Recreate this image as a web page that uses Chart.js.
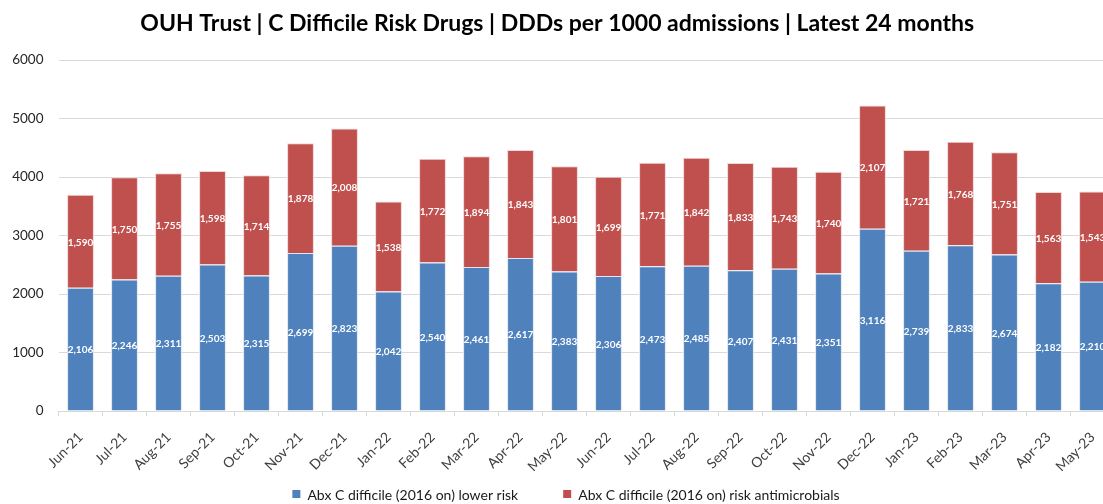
<!DOCTYPE html>
<html>
<head>
<meta charset="utf-8">
<script src="https://cdn.jsdelivr.net/npm/chart.js@4"></script>
<style>
  html, body { margin: 0; padding: 0; background: #ffffff; overflow: hidden; }
  #wrap { width: 1103px; height: 504px; overflow: hidden; position: relative; }
  #box { width: 1132px; height: 504px; position: absolute; left: 0; top: 0; }
</style>
</head>
<body>
<div id="wrap"><div id="box"><canvas id="c"></canvas></div></div>
<script>
const months = ['Jun-21','Jul-21','Aug-21','Sep-21','Oct-21','Nov-21','Dec-21','Jan-22','Feb-22','Mar-22','Apr-22','May-22',
                'Jun-22','Jul-22','Aug-22','Sep-22','Oct-22','Nov-22','Dec-22','Jan-23','Feb-23','Mar-23','Apr-23','May-23'];
const lowerRisk = [2106, 2246, 2311, 2503, 2315, 2699, 2823, 2042, 2540, 2461, 2617, 2383,
                   2306, 2473, 2485, 2407, 2431, 2351, 3116, 2739, 2833, 2674, 2182, 2210];
const riskAntimicrobials = [1590, 1750, 1755, 1598, 1714, 1878, 2008, 1538, 1772, 1894, 1843, 1801,
                            1699, 1771, 1842, 1833, 1743, 1740, 2107, 1721, 1768, 1751, 1563, 1543];
const seriesNames = ['Abx C difficile (2016 on) lower risk', 'Abx C difficile (2016 on) risk antimicrobials'];
const yTicks = [0, 1000, 2000, 3000, 4000, 5000, 6000];

const FONT = 'Lato, "Open Sans", sans-serif';

// white value labels centred inside each stacked segment
const segmentLabels = {
  id: 'segmentLabels',
  afterDatasetsDraw(chart) {
    const ctx = chart.ctx;
    ctx.save();
    ctx.fillStyle = '#ffffff';
    ctx.font = 'bold 10px ' + FONT;
    ctx.textAlign = 'center';
    ctx.textBaseline = 'middle';
    chart.data.datasets.forEach((ds, i) => {
      const meta = chart.getDatasetMeta(i);
      meta.data.forEach((bar, j) => {
        const v = ds.data[j];
        const top = Math.min(bar.y, bar.base), bot = Math.max(bar.y, bar.base);
        ctx.fillText(v.toLocaleString('en-GB'), bar.x, (top + bot) / 2 + 1);
      });
    });
    ctx.restore();
  }
};

// bottom legend: small square swatch followed by the series name, centred as a row
const bottomLegend = {
  id: 'bottomLegend',
  afterDraw(chart) {
    const ctx = chart.ctx;
    const box = 8, gapText = 7, gapItem = 45, y = 494;
    ctx.save();
    ctx.font = '14px ' + FONT;
    ctx.textBaseline = 'middle';
    ctx.textAlign = 'left';
    const items = chart.data.datasets.map(ds => ({ text: ds.label, color: ds.backgroundColor, w: ctx.measureText(ds.label).width }));
    const total = items.reduce((s, it) => s + box + gapText + it.w, 0) + gapItem * (items.length - 1);
    let x = chart.width / 2 - total / 2;
    items.forEach(it => {
      ctx.fillStyle = it.color;
      ctx.fillRect(x, y - box / 2, box, box);
      ctx.fillStyle = '#1a1a1a';
      ctx.fillText(it.text, x + box + gapText, y + 1);
      x += box + gapText + it.w + gapItem;
    });
    ctx.restore();
  }
};

new Chart(document.getElementById('c'), {
  type: 'bar',
  data: {
    labels: months,
    datasets: [
      { label: seriesNames[0], data: lowerRisk, backgroundColor: '#4F81BD', borderColor: '#dfe6f1', borderWidth: 1,
        barPercentage: 0.61, categoryPercentage: 1.0 },
      { label: seriesNames[1], data: riskAntimicrobials, backgroundColor: '#C0504D', borderColor: '#f0d6d5', borderWidth: 1,
        barPercentage: 0.61, categoryPercentage: 1.0 }
    ]
  },
  options: {
    responsive: true,
    maintainAspectRatio: false,
    animation: false,
    layout: { padding: { left: 0, right: 17.5, top: 4, bottom: 33 } },
    plugins: {
      title: {
        display: true,
        text: 'OUH Trust | C Difficile Risk Drugs | DDDs per 1000 admissions | Latest 24 months',
        color: '#000000',
        font: { family: FONT, size: 23, weight: 'bold' },
        padding: { top: 6, bottom: 22.4 }
      },
      legend: { display: false },
      tooltip: { enabled: false }
    },
    scales: {
      x: {
        stacked: true,
        afterFit(axis) { axis.height = 60; },
        grid: { display: true, drawOnChartArea: false, drawTicks: true, tickLength: 5, color: '#d9d9d9', offset: true },
        border: { color: '#d9d9d9' },
        ticks: { color: '#404040', font: { family: FONT, size: 14 }, maxRotation: 45, minRotation: 45, autoSkip: false, padding: 13 }
      },
      y: {
        stacked: true,
        min: 0, max: 6000,
        afterBuildTicks(axis) { axis.ticks = yTicks.map(v => ({ value: v })); },
        afterFit(axis) { axis.width = 58.5; },
        grid: { color: '#d9d9d9', drawTicks: false },
        border: { display: false },
        ticks: { color: '#262626', font: { family: FONT, size: 13.5 }, padding: 15, callback: v => String(v) }
      }
    }
  },
  plugins: [segmentLabels, bottomLegend]
});
</script>
</body>
</html>
